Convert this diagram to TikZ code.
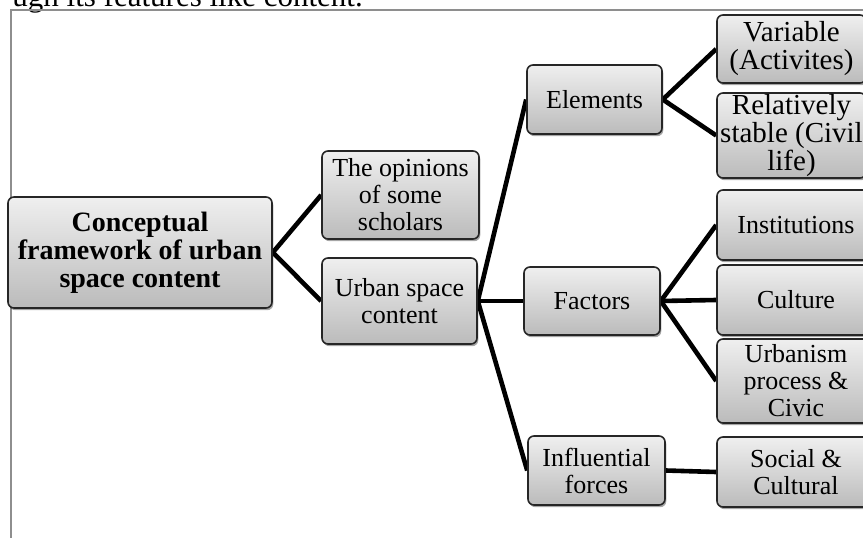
\documentclass[tikz,border=0pt]{standalone}
\usepackage{fontspec}
\setmainfont{Liberation Serif}
\usetikzlibrary{shadows,backgrounds}
\definecolor{boxtop}{HTML}{EFEFEF}
\definecolor{boxbot}{HTML}{BBBBBB}
\definecolor{boxline}{HTML}{262626}
\definecolor{framegray}{HTML}{8E8E8E}
\tikzset{
  card/.style 2 args={draw=boxline, line width=1.6pt, rounded corners=6pt,
    top color=boxtop, bottom color=boxbot,
    drop shadow={shadow xshift=1.3pt, shadow yshift=-2.2pt, opacity=0.35, fill=black},
    align=center, inner sep=0pt, text=black,
    minimum width=#1, minimum height=#2,
    font=\fontsize{26pt}{27pt}\selectfont},
  bigtext/.style={font=\fontsize{29pt}{28pt}\selectfont},
  link/.style={line width=4.6pt, black},
  frameline/.style={draw=framegray, line width=1.5pt},
}
\begin{document}
\begin{tikzpicture}[x=1pt, y=-1pt]
\useasboundingbox (0,0) rectangle (863,538);
\clip (0,0) rectangle (863,538);
\node[anchor=base east, inner sep=0pt, font=\fontsize{31pt}{31pt}\selectfont] (toptext) at (363,6) {ugh its features like content.};
\draw[frameline] (11,540) -- (11,10) -- (865,10);

\node[card={264pt}{111pt}, font=\bfseries\fontsize{28pt}{28pt}\selectfont] (main) at (140,252.5) {Conceptual\\framework of urban\\space content};
\node[card={157pt}{88pt}] (op) at (400.5,195) {The opinions\\of some\\scholars};
\node[card={155pt}{86pt}] (urb) at (399.5,301) {Urban space\\content};
\node[card={135pt}{69pt}] (elem) at (594.5,99.5) {Elements};
\node[card={136pt}{68pt}] (fact) at (592,301) {Factors};
\node[card={137pt}{69pt}] (infl) at (596.5,470.5) {Influential\\forces};
\node[card={149pt}{68pt}, bigtext] (var) at (791.5,49) {Variable\\(Activites)};
\node[card={149pt}{85pt}, bigtext] (rel) at (791.5,135.5) {Relatively\\stable (Civil\\life)};
\node[card={158pt}{70pt}] (inst) at (796,225) {Institutions};
\node[card={158pt}{70pt}] (cult) at (796,300) {Culture};
\node[card={158pt}{84pt}] (urbn) at (796,381) {Urbanism\\process \&\\Civic};
\node[card={158pt}{70pt}] (soc) at (796,472) {Social \&\\Cultural};

\begin{pgfonlayer}{background}
\draw[link] (op.west) -- (main.east) -- (urb.west);
\draw[link] (elem.west) -- (urb.east) -- (infl.west);
\draw[link] (urb.east) -- (fact.west);
\draw[link] (var.west) -- (elem.east) -- (rel.west);
\draw[link] (inst.west) -- (fact.east) -- (urbn.west);
\draw[link] (fact.east) -- (cult.west);
\draw[link] (infl.east) -- (soc.west);
\end{pgfonlayer}
\end{tikzpicture}
\end{document}
